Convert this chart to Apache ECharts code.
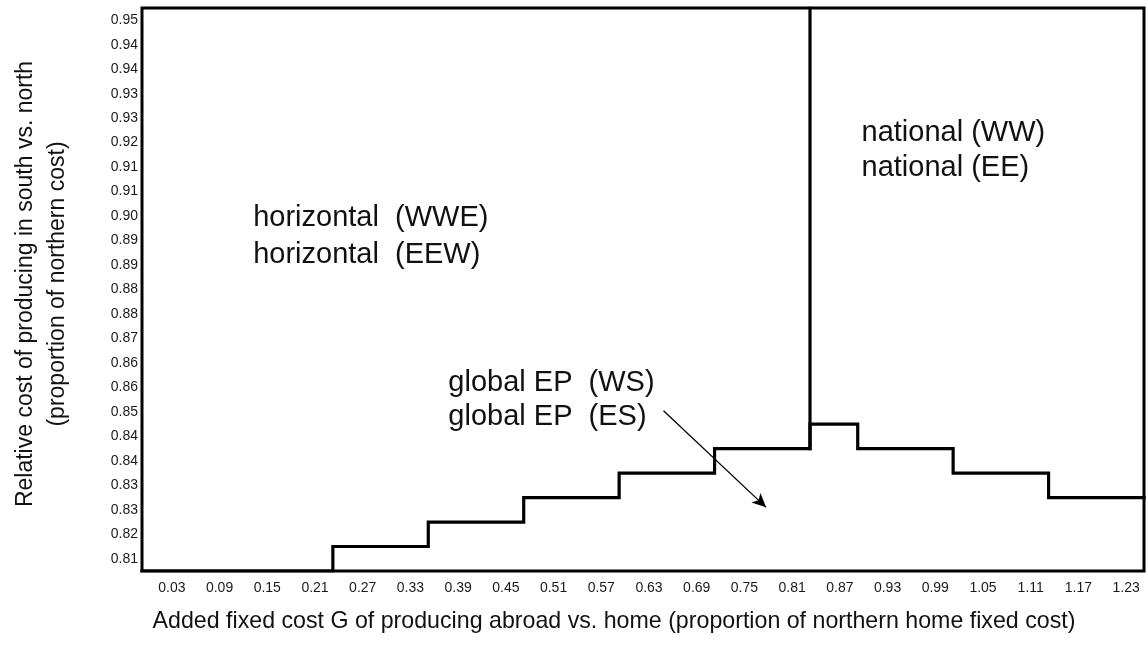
<!DOCTYPE html>
<html>
<head>
<meta charset="utf-8">
<script src="https://cdn.jsdelivr.net/npm/echarts@6/dist/echarts.min.js"></script>
<style>
  html, body { margin: 0; padding: 0; background: #ffffff; }
  #chart { width: 1148px; height: 648px; }
</style>
</head>
<body>
<div id="chart"></div>
<script>
// Added fixed cost G of producing abroad (one column per value)
const fixedCostLabels = ['0.03', '0.09', '0.15', '0.21', '0.27', '0.33', '0.39', '0.45', '0.51', '0.57', '0.63',
  '0.69', '0.75', '0.81', '0.87', '0.93', '0.99', '1.05', '1.11', '1.17', '1.23'];

// Relative south/north production cost (one row per value, bottom to top)
const relCostLabels = ['0.81', '0.82', '0.83', '0.83', '0.84', '0.84', '0.85', '0.86', '0.86', '0.87', '0.88', '0.88',
  '0.89', '0.89', '0.90', '0.91', '0.91', '0.92', '0.93', '0.93', '0.94', '0.94', '0.95'];

// Rows (counted from the bottom) in the global EP regime, per fixed-cost column
const globalEpRows = [0, 0, 0, 0, 1, 1, 2, 2, 3, 3, 4, 4, 5, 5, 6, 5, 5, 4, 4, 3, 3];

// First fixed-cost column where the national regime replaces the horizontal one
const nationalFromCol = 14;

// Regime names
const horizontalText = ['horizontal  (WWE)', 'horizontal  (EEW)'];
const globalEpText = ['global EP  (WS)', 'global EP  (ES)'];
const nationalText = ['national (WW)', 'national (EE)'];

const xTitle = 'Added fixed cost G of producing abroad vs. home (proportion of northern home fixed cost)';
const yTitle = ['Relative cost of producing in south vs. north', '(proportion of northern cost)'];

const FONT = '"Liberation Sans", Arial, Helvetica, sans-serif';
const nCols = fixedCostLabels.length;
const nRows = relCostLabels.length;

// Upper edge of the global EP region, traced cell edge by cell edge
const epBoundary = [];
globalEpRows.forEach((h, i) => {
  epBoundary.push([i, h]);
  epBoundary.push([i + 1, h]);
});

// Divider between the horizontal and national regimes
const nationalDivider = [
  [nationalFromCol, globalEpRows[nationalFromCol - 1]],
  [nationalFromCol, nRows]
];

const chart = echarts.init(document.getElementById('chart'), null, { renderer: 'canvas' });

const option = {
  animation: false,
  backgroundColor: '#ffffff',
  grid: {
    left: 142, right: 4, top: 8, bottom: 77,
    show: true,
    borderColor: '#000000',
    borderWidth: 3,
    backgroundColor: 'transparent'
  },
  xAxis: [
    {
      type: 'category',
      data: fixedCostLabels,
      boundaryGap: true,
      axisLine: { show: false },
      axisTick: { show: false },
      splitLine: { show: false },
      axisLabel: {
        fontFamily: FONT, fontSize: 14, color: '#1a1a1a',
        margin: 10, interval: 0, padding: [0, 0, 0, 12]
      }
    },
    { type: 'value', min: 0, max: nCols, show: false }
  ],
  yAxis: [
    {
      type: 'category',
      data: relCostLabels,
      boundaryGap: true,
      axisLine: { show: false },
      axisTick: { show: false },
      splitLine: { show: false },
      axisLabel: {
        fontFamily: FONT, fontSize: 14, color: '#1a1a1a',
        margin: 4, interval: 0, padding: [5, 0, 0, 0]
      }
    },
    { type: 'value', min: 0, max: nRows, show: false }
  ],
  series: [
    {
      name: 'global EP boundary',
      type: 'line',
      xAxisIndex: 1, yAxisIndex: 1,
      data: epBoundary,
      symbol: 'none',
      lineStyle: { color: '#000000', width: 3.2, join: 'miter', cap: 'square' },
      z: 3,
      markLine: {
        silent: true,
        symbol: ['none', 'arrow'],
        symbolSize: [10, 14],
        label: { show: false },
        lineStyle: { color: '#000000', width: 1.3, type: 'solid' },
        data: [[{ coord: [10.93, 6.55] }, { coord: [13.08, 2.6] }]]
      }
    },
    {
      name: 'national divider',
      type: 'line',
      xAxisIndex: 1, yAxisIndex: 1,
      data: nationalDivider,
      symbol: 'none',
      lineStyle: { color: '#000000', width: 3.2, cap: 'square' },
      z: 3
    }
  ]
};

chart.setOption(option);

// Regime names and axis titles
function regimeLabel(lines, anchor, lineHeight) {
  const p = chart.convertToPixel({ xAxisIndex: 1, yAxisIndex: 1 }, anchor);
  return {
    type: 'text',
    x: p[0], y: p[1],
    z: 10,
    style: {
      text: lines.join('\n'),
      fontFamily: FONT, fontSize: 29, lineHeight: lineHeight,
      fill: '#111111', align: 'left', verticalAlign: 'middle'
    }
  };
}

chart.setOption({
  graphic: [
    regimeLabel(horizontalText, [2.33, 13.68], 37),
    regimeLabel(globalEpText, [6.42, 6.98], 34),
    regimeLabel(nationalText, [15.08, 17.17], 35),
    {
      type: 'text', x: 614, y: 622, z: 10,
      style: {
        text: xTitle, fontFamily: FONT, fontSize: 23.2, fill: '#111111',
        align: 'center', verticalAlign: 'middle'
      }
    },
    {
      type: 'text', x: 42, y: 284, rotation: Math.PI / 2, z: 10,
      style: {
        text: yTitle.join('\n'), fontFamily: FONT, fontSize: 23, lineHeight: 32, fill: '#111111',
        align: 'center', verticalAlign: 'middle'
      }
    }
  ]
});
</script>
</body>
</html>
